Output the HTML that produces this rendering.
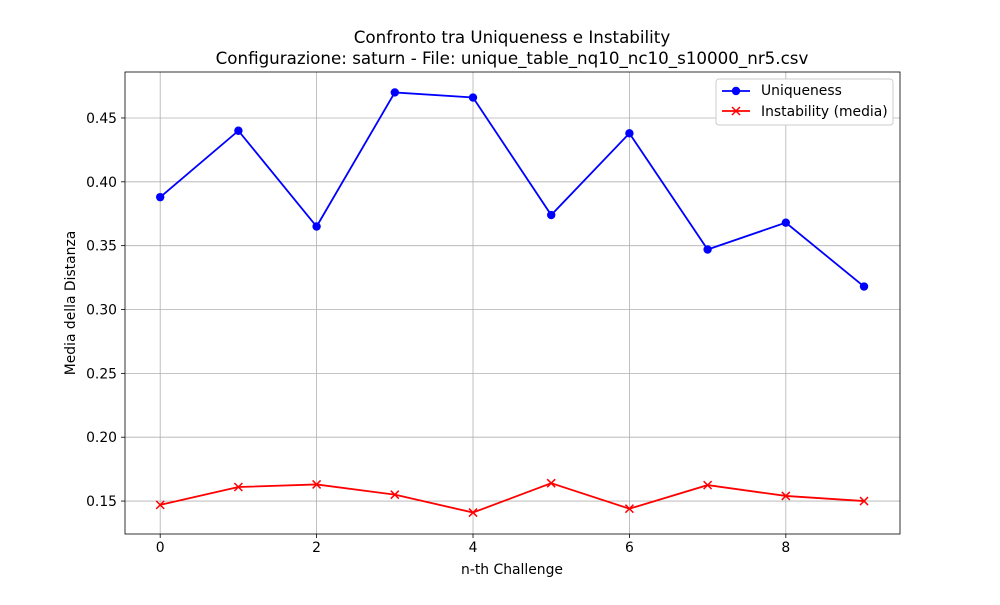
<!DOCTYPE html>
<html><head><meta charset="utf-8"><style>
body{margin:0;background:#fff}
svg{font-family:"DejaVu Sans","Liberation Sans",sans-serif}
</style></head><body>
<svg id="c" width="1000" height="600"></svg>
<script>
const categories=[0,1,2,3,4,5,6,7,8,9];
const uniqueness=[0.388,0.440,0.365,0.470,0.466,0.374,0.438,0.347,0.368,0.318];
const instability=[0.147,0.161,0.163,0.155,0.141,0.164,0.144,0.1625,0.154,0.150];
const xTicks=[0,2,4,6,8];
const yTicks=[0.15,0.20,0.25,0.30,0.35,0.40,0.45];
const yTickLabels=["0.15","0.20","0.25","0.30","0.35","0.40","0.45"];
const L=125,R=900,T=72,B=534;
const xMin=-0.45,xMax=9.46,yMin=0.1242,yMax=0.486;
const X=v=>L+(v-xMin)/(xMax-xMin)*(R-L);
const Y=v=>B-(v-yMin)/(yMax-yMin)*(B-T);
const svg=document.getElementById('c');const NS="http://www.w3.org/2000/svg";
function mk(t,a,p){const e=document.createElementNS(NS,t);for(const k in a)e.setAttribute(k,a[k]);(p||svg).appendChild(e);return e;}
function txt(s,a){const e=mk('text',a);e.textContent=s;return e;}
const grid=mk('g',{});
xTicks.forEach(t=>{mk('line',{x1:X(t),x2:X(t),y1:T,y2:B,stroke:'#b0b0b0','stroke-width':0.8},grid);
mk('line',{x1:X(t),x2:X(t),y1:B,y2:B+4,stroke:'#000','stroke-width':0.8});
const e=txt(String(t),{x:X(t),y:B+18,'text-anchor':'middle','font-size':13.9});});
yTicks.forEach((t,i)=>{mk('line',{x1:L,x2:R,y1:Y(t),y2:Y(t),stroke:'#b0b0b0','stroke-width':0.8},grid);
mk('line',{x1:L-4,x2:L,y1:Y(t),y2:Y(t),stroke:'#000','stroke-width':0.8});
const e=txt(yTickLabels[i],{x:L-8,y:Y(t)+5,'text-anchor':'end','font-size':13.9});});
const frame=mk('rect',{x:L,y:T,width:R-L,height:B-T,fill:'none',stroke:'#000','stroke-width':0.8});

function series(vals,color,marker,name){const g=mk('g',{});
mk('polyline',{points:vals.map((v,i)=>X(categories[i])+','+Y(v)).join(' '),fill:'none',stroke:color,'stroke-width':1.8},g);
vals.forEach((v,i)=>{const x=X(categories[i]),y=Y(v);let m;
if(marker==='o'){m=mk('circle',{cx:x,cy:y,r:4.2,fill:color},g);}
else{m=mk('path',{d:`M${x-4},${y-4}L${x+4},${y+4}M${x-4},${y+4}L${x+4},${y-4}`,stroke:color,'stroke-width':1.5},g);}
});}
series(uniqueness,'#0000ff','o','uniqueness-series');
series(instability,'#ff0000','x','instability-series');
let e=txt('Confronto tra Uniqueness e Instability',{x:512,y:43,'text-anchor':'middle','font-size':16.7});
e=txt('Configurazione: saturn - File: unique_table_nq10_nc10_s10000_nr5.csv',{x:512,y:64,'text-anchor':'middle','font-size':16.7});
e=txt('n-th Challenge',{x:512,y:574,'text-anchor':'middle','font-size':13.9});
e=txt('Media della Distanza',{x:0,y:0,'text-anchor':'middle','font-size':13.9,transform:`translate(75,303) rotate(-90)`});
const lg=mk('g',{});
mk('rect',{x:716,y:79,width:177,height:46,rx:3,fill:'#fff',stroke:'#ccc','stroke-width':1},lg);
mk('line',{x1:722,x2:750,y1:91,y2:91,stroke:'#0000ff','stroke-width':1.8},lg);mk('circle',{cx:736,cy:91,r:4.2,fill:'#0000ff'},lg);
e=txt('Uniqueness',{x:761,y:95,'font-size':13.9});lg.appendChild(e);
mk('line',{x1:722,x2:750,y1:111,y2:111,stroke:'#ff0000','stroke-width':1.8},lg);mk('path',{d:'M732,107L740,115M732,115L740,107',stroke:'#ff0000','stroke-width':1.5},lg);
e=txt('Instability (media)',{x:761,y:116,'font-size':13.9});lg.appendChild(e);
</script>
</body></html>
